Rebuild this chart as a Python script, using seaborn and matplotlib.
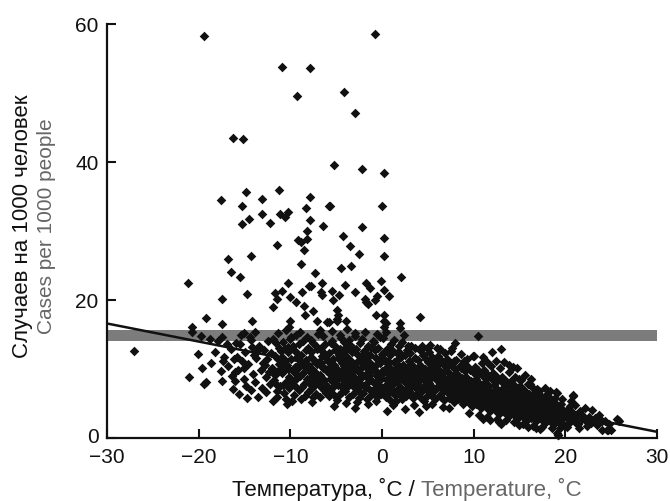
import matplotlib
matplotlib.use("Agg")
import matplotlib.pyplot as plt
from matplotlib.transforms import ScaledTranslation
import seaborn as sns
import pandas as pd

# ---------------- data ----------------
# sparse points (mostly above the dense cloud)
sparse_points = [
    (-19.4, 58.3), (-0.8, 58.6), (-10.9, 53.8), (-7.9, 53.6), (-9.3, 49.6), (-4.1, 50.2), (-3.0, 47.1),
    (-16.3, 43.5), (-15.2, 43.3), (-5.2, 39.6), (-2.2, 39.0), (0.2, 38.4), (-17.6, 34.5), (-14.8, 35.7),
    (-13.1, 34.6), (-11.2, 35.9), (-7.9, 35.0), (-15.3, 33.7), (-8.3, 33.4), (-5.8, 33.7), (0.0, 33.6),
    (-13.1, 32.5), (-11.1, 32.5), (-10.2, 32.7), (-10.6, 32.0), (-14.5, 31.8), (-7.9, 31.6), (-15.3, 31.0),
    (-12.2, 31.2), (-8.2, 30.0), (-9.2, 28.7), (-8.8, 28.4), (-8.2, 28.8), (-8.5, 27.3), (-11.5, 28.0),
    (-16.8, 25.9), (-14.3, 26.4), (-16.5, 24.0), (-15.5, 23.3), (-21.2, 22.5), (-8.8, 25.2), (-10.3, 22.5),
    (-8.0, 22.0), (-14.7, 20.9), (-17.4, 20.1), (-11.7, 21.0), (-10.9, 21.3), (-11.5, 20.1), (-10.0, 20.5),
    (-9.4, 19.7), (-8.7, 21.1), (-11.9, 19.0), (-8.5, 19.2), (-8.4, 17.8), (-19.2, 17.4), (-20.7, 16.1),
    (-17.5, 16.5), (-14.2, 17.0), (-10.0, 17.0), (-10.1, 16.1), (-5.7, 33.6), (-6.4, 30.7), (-2.15, 30.6),
    (-4.3, 29.3), (0.2, 29.0), (-3.5, 27.8), (-2.5, 26.6), (0.2, 26.4), (-4.5, 24.6), (-3.4, 25.0),
    (-7.3, 23.9), (2.1, 23.4), (-7.8, 22.0), (-6.5, 22.5), (-6.7, 21.1), (-6.6, 20.8), (-4.0, 22.2),
    (-1.7, 22.5), (-1.3, 21.8), (-0.1, 22.8), (-5.5, 21.3), (-4.7, 20.7), (-5.4, 20.0), (-2.9, 21.1),
    (0.2, 21.4), (0.8, 20.6), (-1.9, 20.1), (-1.5, 19.4), (-1.7, 19.7), (-0.6, 20.6), (-0.8, 20.0),
    (-7.5, 18.4), (-4.9, 18.6), (-4.8, 17.9), (-4.9, 17.3), (-0.7, 17.9), (0.2, 17.8), (0.2, 17.0),
    (0.4, 16.6), (4.1, 17.5), (2.0, 16.6), (-7.1, 17.0), (-6.0, 16.8), (-5.8, 16.8), (-3.9, 17.0),
    (-4.9, 16.9), (0.2, 16.1), (10.5, 14.8), (-20.7, 15.3), (-19.7, 14.8), (-18.8, 14.3), (-17.4, 14.7),
    (-15.1, 15.2), (-14.3, 14.2), (-15.5, 13.6), (-20.1, 12.2), (-17.2, 11.8), (-19.6, 10.2), (-21.0, 8.8),
    (-19.4, 7.9), (-19.2, 8.1), (-17.4, 8.2), (-16.0, 9.5), (-16.0, 8.3), (-16.1, 11.5), (-10.4, 4.9),
    (-27.0, 12.6), (7.96, 13.8), (7.6, 13.0), (3.2, 13.3), (4.1, 12.8), (5.0, 13.0), (5.95, 13.0),
    (14.3, 10.3), (19.05, 6.5), (20.8, 6.2), (25.6, 2.75), (24.5, 1.2), (19.2, 0.4),
]

cloud_cold = [
    (-16.8, 10.4), (-16.5, 12.9), (-16.2, 7.1), (-15.9, 13.8), (-15.7, 9.9), (-15.6, 6.4), (-15.3, 11.2),
    (-15.1, 8.6), (-14.9, 12.4), (-14.8, 7.6), (-14.6, 10.7), (-14.4, 14.6), (-14.3, 6.9), (-14.1, 9.3),
    (-14.0, 12.1), (-13.8, 8.1), (-13.7, 11.6), (-13.5, 5.9), (-13.4, 13.3), (-13.2, 9.8), (-13.1, 7.3),
    (-13.0, 10.9), (-12.9, 12.8), (-12.7, 8.8), (-12.6, 6.6), (-12.5, 11.4), (-12.4, 14.1), (-12.3, 9.5),
    (-12.2, 7.9), (-12.1, 12.3), (-12.0, 10.2), (-11.9, 5.4), (-16.9, 13.6), (-17.3, 11.2), (-15.4, 14.9),
    (-14.7, 5.8), (-13.9, 15.3), (-16.4, 9.0), (-15.0, 10.1), (-13.6, 12.6), (-12.8, 10.6), (-14.2, 13.2),
    (-15.8, 11.8), (-17.6, 9.7), (-18.2, 12.5), (-18.6, 10.9), (-17.9, 14.1),
    (-11.8, 8.4), (-11.7, 11.9), (-11.6, 13.7), (-11.5, 6.8), (-11.4, 9.6), (-11.3, 15.2), (-11.2, 10.8),
    (-11.1, 7.5), (-11.0, 12.6), (-11.9, 14.4), (-11.7, 9.1), (-11.4, 5.9), (-11.2, 13.1), (-11.0, 10.2),
    (-11.6, 7.9), (-11.3, 11.4),
    (-10.9, 9.4), (-10.8, 13.9), (-10.7, 6.5), (-10.6, 11.1), (-10.5, 15.6), (-10.4, 8.2), (-10.3, 12.4),
    (-10.2, 10.0), (-10.1, 7.2), (-10.0, 14.3), (-10.9, 11.8), (-10.7, 9.9), (-10.5, 5.6), (-10.3, 13.2),
    (-10.1, 8.9), (-10.6, 12.9), (-10.4, 10.6), (-10.8, 7.7),
    (-9.9, 11.5), (-9.8, 8.1), (-9.7, 13.4), (-9.6, 6.2), (-9.5, 10.3), (-9.4, 15.0), (-9.3, 9.2),
    (-9.2, 12.2), (-9.1, 7.0), (-9.0, 10.9), (-9.9, 14.7), (-9.7, 9.7), (-9.5, 7.6), (-9.3, 11.8),
    (-9.1, 13.6), (-9.8, 5.3), (-9.4, 8.6), (-9.2, 10.1), (-9.6, 12.7),
    (-8.9, 9.0), (-8.8, 12.0), (-8.7, 7.4), (-8.6, 14.1), (-8.5, 10.5), (-8.4, 6.1), (-8.3, 11.3),
    (-8.2, 8.5), (-8.1, 13.0), (-8.0, 9.8), (-8.9, 15.4), (-8.7, 11.0), (-8.5, 7.9), (-8.3, 12.8),
    (-8.1, 6.7), (-8.6, 9.4), (-8.4, 10.8), (-8.2, 14.6), (-8.0, 8.0), (-8.8, 5.7),
    (-7.9, 10.2), (-7.8, 12.5), (-7.7, 7.1), (-7.6, 9.3), (-7.5, 13.8), (-7.4, 8.3), (-7.3, 11.2),
    (-7.2, 6.4), (-7.1, 10.7), (-7.0, 15.1), (-7.9, 8.7), (-7.7, 11.7), (-7.5, 6.0), (-7.3, 9.6),
    (-7.1, 12.9), (-7.8, 14.2), (-7.6, 10.0), (-7.4, 7.6), (-7.2, 13.4), (-7.0, 8.9), (-7.6, 5.2),
    (-6.9, 11.0), (-6.8, 9.1), (-6.7, 13.1), (-6.6, 7.3), (-6.5, 10.4), (-6.4, 14.8), (-6.3, 8.4),
    (-6.2, 12.1), (-6.1, 6.5), (-6.0, 9.7), (-6.9, 7.8), (-6.7, 10.9), (-6.5, 12.6), (-6.3, 6.9),
    (-6.1, 11.6), (-6.8, 15.7), (-6.6, 8.7), (-6.4, 10.1), (-6.2, 13.6), (-6.0, 7.5), (-6.8, 5.9),
    (-6.6, 11.9),
    (-5.9, 9.5), (-5.8, 12.3), (-5.7, 7.0), (-5.6, 10.8), (-5.5, 14.0), (-5.4, 8.1), (-5.3, 11.5),
    (-5.2, 6.3), (-5.1, 9.9), (-5.0, 13.2), (-5.9, 11.1), (-5.7, 8.6), (-5.5, 10.2), (-5.3, 7.4),
    (-5.1, 12.7), (-5.8, 6.1), (-5.6, 13.7), (-5.4, 9.3), (-5.2, 10.6), (-5.0, 8.2), (-5.2, 4.6),
    (-5.5, 15.5),
]

cloud_mid = [
    (-4.9, 10.0), (-4.8, 7.7), (-4.7, 12.0), (-4.6, 9.0), (-4.5, 14.5), (-4.4, 6.6), (-4.3, 11.3),
    (-4.2, 8.4), (-4.1, 10.5), (-4.0, 13.1), (-4.9, 8.8), (-4.8, 11.6), (-4.7, 6.2), (-4.6, 12.9),
    (-4.5, 9.6), (-4.4, 10.9), (-4.3, 7.2), (-4.2, 13.9), (-4.1, 8.0), (-4.0, 11.0), (-4.9, 5.5),
    (-4.6, 15.0), (-4.4, 12.3), (-4.2, 9.9), (-4.0, 6.8),
    (-3.9, 9.2), (-3.8, 11.8), (-3.7, 7.5), (-3.6, 10.3), (-3.5, 13.5), (-3.4, 8.5), (-3.3, 12.4),
    (-3.2, 6.4), (-3.1, 10.0), (-3.0, 14.8), (-3.9, 12.8), (-3.8, 8.0), (-3.7, 10.9), (-3.6, 6.0),
    (-3.5, 9.4), (-3.4, 11.1), (-3.3, 7.8), (-3.2, 13.0), (-3.1, 8.9), (-3.0, 10.7), (-3.9, 5.1),
    (-3.6, 14.2), (-3.3, 9.7), (-3.0, 4.4), (-3.8, 15.8),
    (-2.9, 10.4), (-2.8, 8.3), (-2.7, 12.2), (-2.6, 6.9), (-2.5, 9.5), (-2.4, 13.8), (-2.3, 7.9),
    (-2.2, 11.4), (-2.1, 9.0), (-2.0, 10.8), (-2.9, 7.3), (-2.8, 12.9), (-2.7, 9.8), (-2.6, 11.2),
    (-2.5, 5.8), (-2.4, 8.7), (-2.3, 10.1), (-2.2, 14.4), (-2.1, 6.5), (-2.0, 12.6), (-2.9, 15.2),
    (-2.6, 8.1), (-2.3, 11.9), (-2.0, 7.6), (-2.7, 5.2),
    (-1.9, 9.1), (-1.8, 11.7), (-1.7, 7.4), (-1.6, 10.2), (-1.5, 13.3), (-1.4, 8.6), (-1.3, 12.0),
    (-1.2, 6.3), (-1.1, 9.8), (-1.0, 14.1), (-1.9, 12.5), (-1.8, 7.9), (-1.7, 10.6), (-1.6, 5.6),
    (-1.5, 9.3), (-1.4, 11.0), (-1.3, 7.0), (-1.2, 13.1), (-1.1, 8.3), (-1.0, 10.5), (-1.9, 15.4),
    (-1.6, 8.9), (-1.3, 9.6), (-1.0, 6.7), (-1.5, 4.9),
    (-0.9, 10.0), (-0.8, 8.0), (-0.7, 11.6), (-0.6, 6.8), (-0.5, 9.2), (-0.4, 13.0), (-0.3, 7.7),
    (-0.2, 10.9), (-0.1, 8.5), (0.0, 12.2), (-0.9, 7.1), (-0.8, 12.7), (-0.7, 9.5), (-0.6, 10.8),
    (-0.5, 5.9), (-0.4, 8.8), (-0.3, 11.3), (-0.2, 14.6), (-0.1, 6.4), (0.0, 9.7), (-0.9, 13.9),
    (-0.6, 15.1), (-0.3, 9.0), (-0.7, 5.3), (-0.2, 7.2),
    (0.1, 9.4), (0.2, 11.4), (0.3, 7.6), (0.4, 10.1), (0.5, 12.9), (0.6, 8.2), (0.7, 10.7),
    (0.8, 6.5), (0.9, 9.0), (1.0, 13.6), (0.1, 7.0), (0.2, 12.4), (0.3, 9.9), (0.4, 6.0),
    (0.5, 8.6), (0.6, 11.1), (0.7, 7.3), (0.8, 10.3), (0.9, 12.0), (1.0, 8.0), (0.1, 14.5),
    (0.4, 15.3), (0.7, 9.3), (0.5, 3.9), (0.9, 5.5),
    (1.1, 9.6), (1.2, 7.8), (1.3, 11.0), (1.4, 6.2), (1.5, 9.1), (1.6, 12.3), (1.7, 7.1),
    (1.8, 10.4), (1.9, 8.4), (2.0, 11.8), (1.1, 12.8), (1.2, 8.9), (1.3, 6.8), (1.4, 10.0),
    (1.5, 5.4), (1.6, 8.1), (1.7, 11.5), (1.8, 9.5), (1.9, 6.4), (2.0, 7.4), (1.3, 14.2),
    (1.6, 10.7), (1.9, 13.3), (1.2, 4.8), (1.8, 12.5),
    (2.1, 9.0), (2.2, 7.0), (2.3, 10.6), (2.4, 8.2), (2.5, 12.0), (2.6, 6.1), (2.7, 9.8),
    (2.8, 7.7), (2.9, 11.2), (3.0, 8.7), (2.1, 11.7), (2.2, 5.6), (2.3, 8.4), (2.4, 10.2),
    (2.5, 6.9), (2.6, 9.3), (2.7, 12.8), (2.8, 6.6), (2.9, 10.0), (3.0, 7.3), (2.5, 4.2),
    (2.2, 13.9), (2.8, 13.4), (2.4, 15.0), (2.0, 16.0),
]

cloud_warm = [
    (3.1, 8.9), (3.2, 10.8), (3.3, 6.4), (3.4, 9.6), (3.5, 7.5), (3.6, 11.6), (3.7, 8.1),
    (3.8, 10.1), (3.9, 6.9), (4.0, 9.2), (3.1, 12.3), (3.2, 7.7), (3.3, 10.4), (3.4, 5.8),
    (3.5, 8.6), (3.6, 13.0), (3.7, 6.3), (3.8, 9.9), (3.9, 11.3), (4.0, 7.2), (3.5, 4.8), (4.0, 3.7),
    (4.1, 8.4), (4.2, 10.5), (4.3, 6.7), (4.4, 9.4), (4.5, 12.1), (4.6, 7.6), (4.7, 10.0),
    (4.8, 5.9), (4.9, 8.8), (5.0, 11.0), (4.1, 6.0), (4.2, 12.7), (4.3, 9.0), (4.4, 7.1),
    (4.5, 9.9), (4.6, 5.3), (4.7, 8.2), (4.8, 11.5), (4.9, 7.0), (5.0, 9.5), (4.4, 13.4), (4.8, 4.6),
    (5.1, 8.0), (5.2, 10.2), (5.3, 6.5), (5.4, 9.1), (5.5, 11.8), (5.6, 7.3), (5.7, 9.7),
    (5.8, 5.7), (5.9, 8.5), (6.0, 10.6), (5.1, 12.4), (5.2, 7.7), (5.3, 9.6), (5.4, 6.1),
    (5.5, 8.8), (5.6, 10.9), (5.7, 6.8), (5.8, 9.2), (5.9, 11.4), (6.0, 7.4), (5.5, 4.9), (5.2, 13.5),
    (6.1, 8.3), (6.2, 9.9), (6.3, 6.2), (6.4, 8.9), (6.5, 11.2), (6.6, 7.0), (6.7, 9.4),
    (6.8, 5.5), (6.9, 8.0), (7.0, 10.3), (6.1, 11.9), (6.2, 7.5), (6.3, 9.2), (6.4, 5.9),
    (6.5, 8.4), (6.6, 10.7), (6.7, 6.6), (6.8, 8.7), (6.9, 12.3), (7.0, 6.9), (6.6, 4.5), (6.3, 12.9),
    (7.1, 7.8), (7.2, 9.6), (7.3, 5.8), (7.4, 8.6), (7.5, 10.8), (7.6, 6.7), (7.7, 9.0),
    (7.8, 5.2), (7.9, 7.7), (8.0, 10.0), (7.1, 11.5), (7.2, 7.2), (7.3, 8.9), (7.4, 6.3),
    (7.5, 8.1), (7.6, 10.4), (7.7, 6.0), (7.8, 8.4), (7.9, 11.1), (8.0, 6.5), (7.5, 12.6), (7.3, 4.4),
    (8.1, 7.4), (8.2, 9.3), (8.3, 5.6), (8.4, 8.2), (8.5, 10.5), (8.6, 6.4), (8.7, 8.7),
    (8.8, 4.9), (8.9, 7.3), (9.0, 9.7), (8.1, 11.3), (8.2, 6.9), (8.3, 8.5), (8.4, 5.9),
    (8.5, 7.8), (8.6, 10.1), (8.7, 5.4), (8.8, 8.0), (8.9, 10.9), (9.0, 6.2), (8.6, 12.2), (8.9, 11.1),
    (9.1, 7.0), (9.2, 8.9), (9.3, 5.3), (9.4, 7.9), (9.5, 10.2), (9.6, 6.1), (9.7, 8.3),
    (9.8, 4.6), (9.9, 6.9), (10.0, 9.4), (9.1, 10.7), (9.2, 6.5), (9.3, 8.1), (9.4, 5.6),
    (9.5, 7.4), (9.6, 9.8), (9.7, 5.0), (9.8, 7.7), (9.9, 11.9), (10.0, 5.8), (9.5, 3.6), (9.3, 11.5),
    (10.1, 6.6), (10.2, 8.5), (10.3, 4.9), (10.4, 7.5), (10.5, 9.8), (10.6, 5.7), (10.7, 7.9),
    (10.8, 4.3), (10.9, 6.5), (11.0, 9.0), (10.1, 10.3), (10.2, 6.0), (10.3, 7.7), (10.4, 5.2),
    (10.5, 7.0), (10.6, 9.4), (10.7, 4.7), (10.8, 7.2), (10.9, 10.9), (11.0, 5.4), (10.6, 3.4),
    (11.0, 11.8), (10.0, 11.9), (11.0, 2.7),
    (11.1, 6.2), (11.2, 8.1), (11.3, 4.5), (11.4, 7.1), (11.5, 9.3), (11.6, 5.3), (11.7, 7.5),
    (11.8, 3.9), (11.9, 6.1), (12.0, 8.6), (11.1, 9.9), (11.2, 5.6), (11.3, 7.3), (11.4, 4.8),
    (11.5, 6.6), (11.6, 8.9), (11.7, 4.2), (11.8, 6.8), (11.9, 10.4), (12.0, 5.0), (11.5, 3.1),
    (12.0, 12.5), (11.4, 11.0), (11.8, 2.6),
    (12.1, 5.8), (12.2, 7.7), (12.3, 4.1), (12.4, 6.7), (12.5, 8.8), (12.6, 4.9), (12.7, 7.0),
    (12.8, 3.5), (12.9, 5.7), (13.0, 8.2), (12.1, 9.4), (12.2, 5.2), (12.3, 6.9), (12.4, 4.4),
    (12.5, 6.2), (12.6, 8.4), (12.7, 3.8), (12.8, 6.4), (12.9, 10.1), (13.0, 4.6), (12.5, 2.8),
    (13.0, 12.9), (12.4, 11.2), (12.8, 2.3),
    (13.1, 5.4), (13.2, 7.2), (13.3, 3.8), (13.4, 6.3), (13.5, 8.3), (13.6, 4.6), (13.7, 6.6),
    (13.8, 3.2), (13.9, 5.3), (14.0, 7.7), (13.1, 8.9), (13.2, 4.9), (13.3, 6.5), (13.4, 4.0),
    (13.5, 5.8), (13.6, 7.9), (13.7, 3.5), (13.8, 6.0), (13.9, 9.6), (14.0, 4.3), (13.5, 2.6),
    (13.3, 11.0), (13.8, 10.6), (13.0, 2.1),
]

cloud_hot = [
    (14.1, 5.0), (14.2, 6.7), (14.3, 3.5), (14.4, 5.8), (14.5, 7.6), (14.6, 4.2), (14.7, 6.1),
    (14.8, 2.9), (14.9, 4.9), (15.0, 7.0), (14.1, 8.2), (14.2, 4.5), (14.3, 6.0), (14.4, 3.7),
    (14.5, 5.3), (14.6, 7.3), (14.7, 3.2), (14.8, 5.5), (14.9, 8.6), (15.0, 3.9), (14.7, 10.1),
    (14.5, 8.9), (14.4, 2.3), (14.9, 1.9),
    (15.1, 4.6), (15.2, 6.2), (15.3, 3.2), (15.4, 5.3), (15.5, 7.0), (15.6, 3.9), (15.7, 5.6),
    (15.8, 2.6), (15.9, 4.5), (16.0, 6.4), (15.1, 7.6), (15.2, 4.1), (15.3, 5.5), (15.4, 3.4),
    (15.5, 4.9), (15.6, 6.7), (15.7, 2.9), (15.8, 5.0), (15.9, 7.9), (16.0, 3.6), (15.4, 2.0),
    (15.6, 9.1), (15.9, 1.6), (15.2, 8.4),
    (16.1, 4.2), (16.2, 5.7), (16.3, 2.9), (16.4, 4.9), (16.5, 6.4), (16.6, 3.6), (16.7, 5.2),
    (16.8, 2.4), (16.9, 4.1), (17.0, 5.9), (16.1, 7.9), (16.2, 3.8), (16.3, 5.1), (16.4, 3.1),
    (16.5, 4.5), (16.6, 6.2), (16.7, 2.7), (16.8, 4.6), (16.9, 7.1), (17.0, 3.3), (16.5, 1.8),
    (16.2, 8.6), (16.8, 1.4), (16.4, 7.4),
    (17.1, 3.9), (17.2, 5.3), (17.3, 2.7), (17.4, 4.5), (17.5, 5.9), (17.6, 3.3), (17.7, 4.8),
    (17.8, 2.2), (17.9, 3.8), (18.0, 5.4), (17.1, 6.8), (17.2, 3.5), (17.3, 4.7), (17.4, 2.9),
    (17.5, 4.1), (17.6, 5.7), (17.7, 2.5), (17.8, 4.2), (17.9, 6.3), (18.0, 3.0), (17.5, 1.6),
    (17.8, 7.2), (17.2, 1.3),
    (18.1, 3.6), (18.2, 4.9), (18.3, 2.5), (18.4, 4.1), (18.5, 5.4), (18.6, 3.0), (18.7, 4.4),
    (18.8, 2.0), (18.9, 3.5), (19.0, 4.9), (18.1, 6.1), (18.2, 3.2), (18.3, 4.3), (18.4, 2.7),
    (18.5, 3.8), (18.6, 5.2), (18.7, 2.3), (18.8, 3.9), (18.9, 5.8), (19.0, 2.8), (18.5, 1.4),
    (19.0, 6.6), (18.3, 6.8),
    (19.1, 3.3), (19.2, 4.5), (19.3, 2.3), (19.4, 3.8), (19.5, 5.0), (19.6, 2.8), (19.7, 4.0),
    (19.8, 1.9), (19.9, 3.2), (19.2, 0.5), (19.1, 0.7), (19.6, 5.6), (19.4, 1.5), (20.1, 3.0),
    (20.2, 4.1), (20.3, 2.1), (20.4, 3.5), (20.5, 4.6), (20.6, 2.6), (20.7, 3.7), (20.8, 6.1),
    (20.9, 2.9), (20.2, 1.6), (20.6, 5.3), (21.0, 2.3), (21.2, 3.4), (21.4, 2.0), (21.6, 3.9),
    (21.8, 2.7), (21.1, 4.8), (21.5, 1.5), (21.9, 3.2), (22.1, 4.4), (22.3, 2.5), (22.6, 3.1),
    (22.9, 4.0), (22.4, 1.8), (22.8, 2.2),
    (23.2, 2.9), (23.5, 1.9), (23.96, 2.5), (24.3, 2.4), (24.0, 1.1), (24.6, 1.1), (25.0, 1.1),
    (25.7, 2.6), (25.9, 2.5), (23.7, 3.4), (24.8, 2.0),
]

# trend line and shaded band
line_temp = [-30, 30]
line_cases = [16.6, 0.9]
band_temp = [-30, 30]
band_low = 14.0
band_high = 15.6

x_ticks = [-30, -20, -10, 0, 10, 20, 30]
y_ticks = [0, 20, 40, 60]

ylabel_ru = "Случаев на 1000 человек"
ylabel_en = "Cases per 1000 people"
xlabel_ru = "Температура, ˚C / "
xlabel_en = "Temperature, ˚C"

# ---------------- plot ----------------
sns.set_style("white")
plt.rcParams["font.family"] = ["Liberation Sans", "DejaVu Sans"]

all_pts = sparse_points + cloud_cold + cloud_mid + cloud_warm + cloud_hot
df = pd.DataFrame(all_pts, columns=["temp", "cases"])

fig = plt.figure(figsize=(6.70, 5.01), dpi=100)
ax = fig.add_axes([0.1597, 0.1257, 0.8209, 0.8263])

ax.fill_between(band_temp, [band_low] * 2, [band_high] * 2, color="#7c7c7c", lw=0, zorder=1)
sns.lineplot(x=line_temp, y=line_cases, ax=ax, color="#111111", lw=1.8, zorder=2)
sns.scatterplot(data=df, x="temp", y="cases", ax=ax, marker="D", s=24, color="#111111",
                linewidth=0, zorder=3, clip_on=False)

ax.set_xlim(-30, 30)
ax.set_ylim(0, 60)
ax.set_xticks(x_ticks)
ax.set_yticks(y_ticks)
ax.set_xticklabels([f"{t}".replace("-", "\u2212") for t in x_ticks])
ax.set_yticklabels([str(t) for t in y_ticks])
ax.set_xlabel("")
ax.set_ylabel("")
for s in ["top", "right"]:
    ax.spines[s].set_visible(False)
for s in ["left", "bottom"]:
    ax.spines[s].set_linewidth(1.6)
    ax.spines[s].set_color("#111111")
ax.tick_params(direction="in", length=6.5, width=1.5, color="#111111", labelsize=15,
               labelcolor="#111111", bottom=True, left=True)
ax.tick_params(axis="y", pad=6)
ax.tick_params(axis="x", pad=7.5)

# lift the "0" label a little so it does not collide with "-30"
zero_lbl = ax.get_yticklabels()[0]
zero_lbl.set_transform(zero_lbl.get_transform() + ScaledTranslation(0, 3 / 100, fig.dpi_scale_trans))

# y label in two lines
fig.text(0.034, 0.548, ylabel_ru, rotation=90, ha="center", va="center", fontsize=16, color="#111111")
fig.text(0.069, 0.548, ylabel_en, rotation=90, ha="center", va="center", fontsize=15, color="#666666")

# x label: two colours
fig.canvas.draw()
r = fig.canvas.get_renderer()
t1 = fig.text(0, 0.024, xlabel_ru, ha="left", va="center", fontsize=16, color="#111111")
t2 = fig.text(0, 0.024, xlabel_en, ha="left", va="center", fontsize=16, color="#666666")
w1 = t1.get_window_extent(r).width / fig.bbox.width
w2 = t2.get_window_extent(r).width / fig.bbox.width
cx = 0.607
start = cx - (w1 + w2) / 2
t1.set_x(start)
t2.set_x(start + w1)

fig.savefig("out.png", dpi=100)
